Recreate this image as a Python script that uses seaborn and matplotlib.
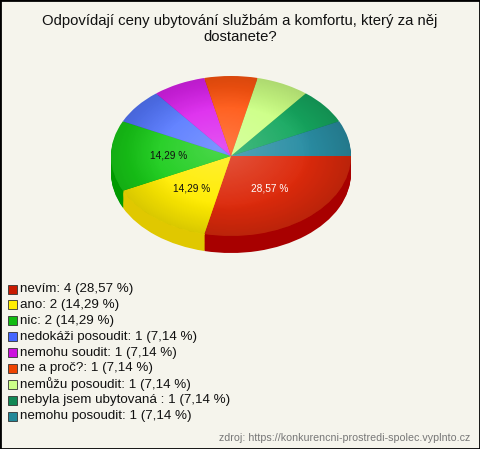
import numpy as np
import matplotlib
matplotlib.use("Agg")
import matplotlib.pyplot as plt
import seaborn as sns
from matplotlib.patches import Rectangle, Ellipse

# data
labels = ["nevím", "ano", "nic", "nedokáži posoudit", "nemohu soudit",
          "ne a proč?", "nemůžu posoudit", "nebyla jsem ubytovaná ", "nemohu posoudit"]
counts = [4, 2, 2, 1, 1, 1, 1, 1, 1]
top_colors = ["#dc2a0c", "#ffec00", "#18cc18", "#5578ff", "#dc22ee",
              "#ff5510", "#ccff84", "#16a860", "#2a8ea4"]
side_colors = ["#a80000", "#e0c800", "#009a00", "#3050c0", "#a010b0",
               "#c03000", "#a0d060", "#0a7a40", "#1a6070"]
legend_colors = ["#c81a00", "#ffee00", "#11bb11", "#4466ff", "#cc11dd",
                 "#ee4400", "#ccff88", "#118855", "#228899"]

title = "Odpovídají ceny ubytování službám a komfortu, který za něj\ndostanete?"
source = "zdroj: https://konkurencni-prostredi-spolec.vyplnto.cz"

sns.set_theme(style="white")
plt.rcParams["font.family"] = ["Liberation Sans", "DejaVu Sans"]

W, H = 480, 449
bg = "#f5f4ec"
fig = plt.figure(figsize=(W / 100, H / 100), dpi=100, facecolor=bg)

# pie geometry in pixels
cx, cy, rx, ry, depth = 231, 156, 120, 80, 17
ax = fig.add_axes([(cx - rx) / W, 1 - (cy + ry + depth) / H,
                   2 * rx / W, (2 * ry + depth) / H])
ax.set_facecolor("none")
d = depth / ry

total = sum(counts)

def pct_label(p):
    return f"{p:.2f} %".replace(".", ",") if p > 10 else ""

# side wall: stacked darker layers
for k in np.linspace(d, 0.02, 18):
    ax.pie(counts, colors=side_colors, startangle=0, counterclock=False,
           center=(0, -k), radius=1, wedgeprops=dict(linewidth=0))

wedges, texts, autotexts = ax.pie(
    counts, colors=top_colors, startangle=0, counterclock=False,
    radius=1, autopct=pct_label, pctdistance=0.52,
    wedgeprops=dict(linewidth=0),
    textprops=dict(fontsize=7.3, color="#111111"))
autotexts[0].set_color("white")
for t in autotexts:
    t.set_zorder(10)

# soft radial highlight
n = 200
yy, xx = np.mgrid[-1:1:n * 1j, -1:1:n * 1j]
rr = np.sqrt((xx + 0.1) ** 2 + (yy - 0.1) ** 2)
img = np.zeros((n, n, 4))
img[..., :3] = 1
img[..., 3] = np.clip(0.22 * (1 - rr / 0.8), 0, 0.22)
im = ax.imshow(img, extent=(-1, 1, -1, 1), origin="lower", zorder=5, aspect="auto")
im.set_clip_path(Ellipse((0, 0), 2, 2, transform=ax.transData))
shade = np.zeros((n, n, 4))
shade[..., 3] = np.clip(0.15 * (np.sqrt(xx ** 2 + yy ** 2) - 0.6) / 0.4, 0, 0.15)
im2 = ax.imshow(shade, extent=(-1, 1, -1, 1), origin="lower", zorder=5, aspect="auto")
im2.set_clip_path(Ellipse((0, 0), 2, 2, transform=ax.transData))

ax.set_aspect("auto")
ax.set_xlim(-1, 1)
ax.set_ylim(-1 - d, 1)
ax.axis("off")

# title
fig.text(0.5, 1 - 29 / H, title, ha="center", va="center", fontsize=10.7,
         color="#111111", linespacing=1.1)

# legend
y0, step = 289, 15.9
for i, (lab, c) in enumerate(zip(labels, counts)):
    y = y0 + i * step
    fig.patches.append(Rectangle((8 / W, 1 - (y + 4.5) / H), 9 / W, 9 / H,
                                 transform=fig.transFigure, facecolor=legend_colors[i],
                                 edgecolor="#333333", linewidth=0.6))
    pct = f"{100 * c / total:.2f}".replace(".", ",")
    fig.text(20 / W, 1 - y / H, f"{lab}: {c} ({pct} %)", ha="left", va="center",
             fontsize=9.6, color="#111111")

fig.text(470 / W, 1 - 438 / H, source, ha="right", va="center", fontsize=7.7,
         color="#777777")

# border
fig.patches.append(Rectangle((0, 0), 1, 1, transform=fig.transFigure, fill=False,
                             edgecolor="black", linewidth=2))

fig.savefig("out.png", dpi=100, facecolor=bg)
